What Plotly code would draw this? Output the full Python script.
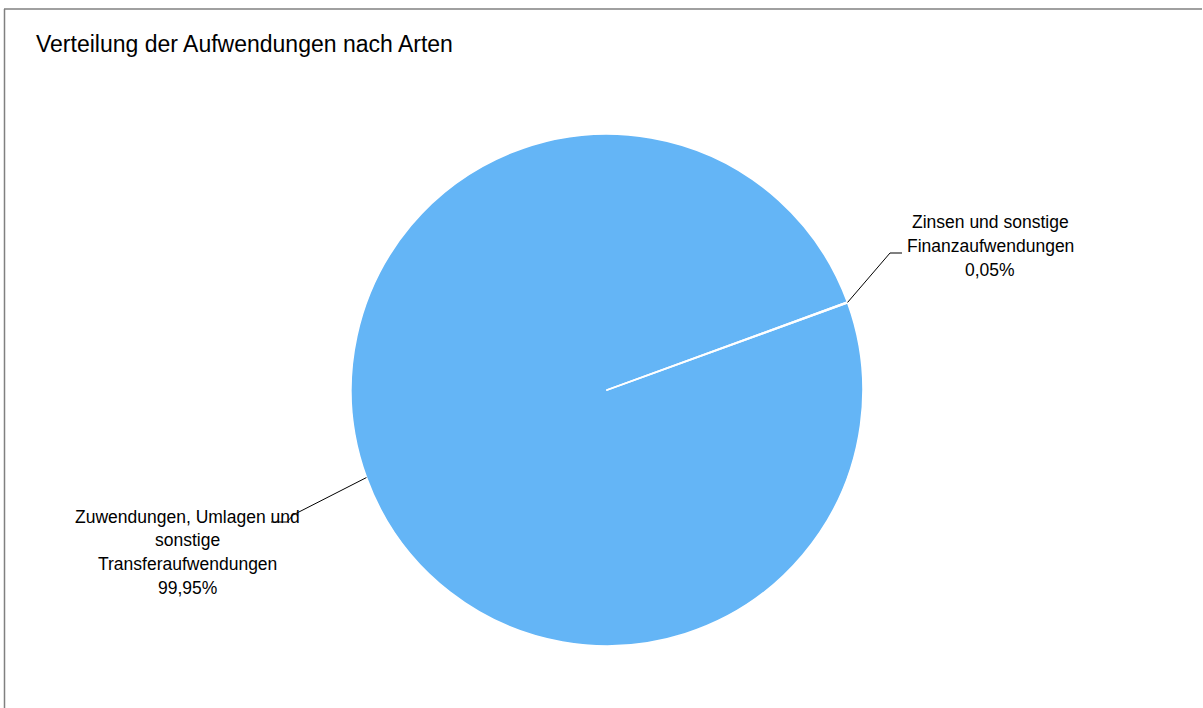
import math
import plotly.graph_objects as go

# ---- data ----
title_text = "Verteilung der Aufwendungen nach Arten"
labels = ["Zuwendungen, Umlagen und<br>sonstige<br>Transferaufwendungen",
          "Zinsen und sonstige<br>Finanzaufwendungen"]
values = [99.95, 0.05]
slice_colors = ["#64B5F6", "#64B5F6"]

# ---- layout geometry (pixels) ----
W, H = 1203, 708
CX, CY, R = 607, 390, 256
ROT = 70.0 + values[1] / 100 * 360 / 2  # start angle of first slice (clockwise from 12 o'clock)
FONT = "Liberation Sans, Arial, sans-serif"


def px(x):
    return x / W


def py(y):
    return 1 - y / H


fig = go.Figure(go.Pie(
    labels=labels,
    values=values,
    sort=False,
    direction="clockwise",
    rotation=ROT,
    textinfo="none",
    hoverinfo="label+percent",
    marker=dict(colors=slice_colors, line=dict(color="white", width=1.7)),
    domain=dict(x=[px(CX - R), px(CX + R)], y=[py(CY + R), py(CY - R)]),
    showlegend=False,
))

# midpoint angle of each slice, computed from the data
total = sum(values)
start = ROT
mids = []
for v in values:
    ang = v / total * 360
    mids.append(start + ang / 2)
    start += ang


def edge_point(deg):
    a = math.radians(deg)
    return CX + R * math.sin(a), CY - R * math.cos(a)


# label placement (centre x, first line y, line gap) and leader-line elbows
label_pos = [(187.5, 516.5, 23.8), (990, 222.0, 23.8)]
leader_tail = [[(293, 515), (287, 522), (271, 522)], [(890, 253), (902, 253)]]

shapes = []
annotations = []
for i, lab in enumerate(labels):
    lines = lab.split("<br>") + [f"{values[i]:.2f}".replace(".", ",") + "%"]
    lx, ly, gap = label_pos[i]
    for j, t in enumerate(lines):
        annotations.append(dict(
            x=px(lx), y=py(ly + j * gap), xref="paper", yref="paper",
            text=t, showarrow=False, xanchor="center", yanchor="middle",
            font=dict(family=FONT, size=17.5, color="#000000")))
    sx, sy = edge_point(mids[i])
    pts = [(sx, sy)] + leader_tail[i]
    path = "M " + " L ".join(f"{px(x)},{py(y)}" for x, y in pts)
    shapes.append(dict(type="path", path=path, xref="paper", yref="paper",
                       line=dict(color="#000000", width=1)))

# outer frame (top and left)
shapes.append(dict(type="line", xref="paper", yref="paper",
                   x0=px(4), x1=px(1202), y0=py(9), y1=py(9),
                   line=dict(color="#808080", width=1.5)))
shapes.append(dict(type="line", xref="paper", yref="paper",
                   x0=px(4.5), x1=px(4.5), y0=py(9), y1=py(720),
                   line=dict(color="#808080", width=1.5)))

annotations.append(dict(
    x=px(34), y=py(44), xref="paper", yref="paper", text=title_text,
    showarrow=False, xanchor="left", yanchor="middle",
    font=dict(family=FONT, size=23, color="#000000")))

fig.update_layout(
    width=W, height=H, autosize=False,
    margin=dict(l=0, r=0, t=0, b=0),
    paper_bgcolor="white", plot_bgcolor="white",
    shapes=shapes, annotations=annotations,
)

fig.write_html("out.html",
               config={"displayModeBar": False},
               post_script="document.body.style.margin='0';document.body.style.overflow='hidden';")
